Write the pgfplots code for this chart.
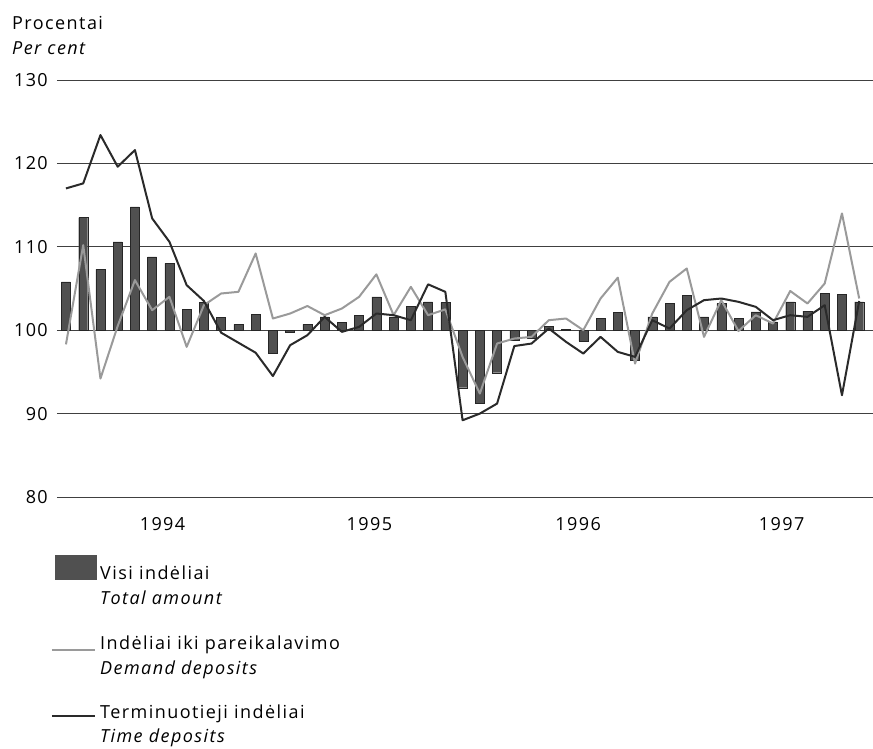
\documentclass[border=0pt]{standalone}
\usepackage{pgfplots}
\pgfplotsset{compat=1.18}
\usepackage{fontspec}
\setmainfont{Open Sans}[LetterSpace=8]
\definecolor{barGray}{HTML}{505050}
\definecolor{demandGray}{HTML}{9A9A9A}
\definecolor{timeDark}{HTML}{2A2A2A}

% monthly index: 0 = Jan 1994 ... 46 = Nov 1997
\pgfplotstableread{
m total demand time
0  105.8  98.3 117.0
1  113.5 110.2 117.6
2  107.3  94.2 123.4
3  110.6 100.5 119.6
4  114.8 106.0 121.6
5  108.8 102.4 113.4
6  108.0 104.0 110.6
7  102.5  98.0 105.4
8  103.3 103.0 103.5
9  101.5 104.4  99.7
10 100.7 104.6  98.5
11 101.9 109.2  97.3
12  97.2 101.4  94.5
13  99.8 102.0  98.2
14 100.7 102.9  99.4
15 101.6 101.8 101.6
16 100.9 102.6  99.8
17 101.8 104.0 100.4
18 104.0 106.7 102.0
19 101.6 101.8 101.8
20 102.9 105.2 101.2
21 103.4 101.8 105.5
22 103.3 102.5 104.6
23  93.1  96.8  89.2
24  91.2  92.4  90.0
25  94.9  98.4  91.2
26  98.8  99.0  98.1
27  99.0  99.2  98.4
28 100.5 101.2 100.2
29 100.1 101.4  98.6
30  98.7 100.0  97.2
31 101.4 103.8  99.2
32 102.1 106.3  97.4
33  96.4  96.0  96.8
34 101.6 102.0 101.2
35 103.2 105.8 100.2
36 104.2 107.4 102.4
37 101.6  99.2 103.6
38 103.2 103.6 103.8
39 101.4  99.9 103.4
40 102.2 101.8 102.8
41 101.0 100.8 101.2
42 103.4 104.7 101.8
43 102.3 103.2 101.6
44 104.4 105.6 103.0
45 104.3 114.0  92.2
46 103.4 103.8 103.5
}\deposits

\begin{document}
\fontsize{18}{22}\selectfont
\begin{tikzpicture}
\begin{axis}[
    name=ax,
    scale only axis,
    width=816pt, height=417pt,
    xmin=-0.52, xmax=46.8,
    ymin=-20, ymax=30,
    axis line style={draw=none},
    tick style={draw=none},
    y filter/.expression={y-100},
    ytick={-20,-10,...,30},
    yticklabels={80,90,100,110,120,130},
    xtick={5.6,17.6,29.7,41.5},
    xticklabels={1994,1995,1996,1997},
    major tick length=0pt,
    ymajorgrids,
    grid style={black!75, line width=0.8pt},
    yticklabel style={font=\fontsize{18}{22}\selectfont, inner sep=0pt, xshift=-9pt},
    xticklabel style={font=\fontsize{18}{22}\selectfont, yshift=-14pt},
    /pgf/number format/assume math mode=true,
    clip=false,
]
\addplot[ybar, bar width=9pt, fill=barGray, draw=black!85, line width=0.4pt]
    table[x=m, y=total] {\deposits};
\addplot[demandGray, line width=2pt, line join=round]
    table[x=m, y=demand] {\deposits};
\addplot[timeDark, line width=2pt, line join=round]
    table[x=m, y=time] {\deposits};
\end{axis}

\pgfresetboundingbox
\begin{scope}[shift={(ax.south west)}, xshift=-57pt, yshift=-252pt, x=1pt, y=1pt]
\path[use as bounding box] (0,0) rectangle (873,749);

\node[anchor=base west, inner sep=0pt] at (12,719) {Procentai};
\node[anchor=base west, inner sep=0pt] at (12,694) {\itshape Per cent};

% legend
\fill[barGray] (55,169) rectangle (97,194);
\node[anchor=base west, inner sep=0pt] at (100,169) {Visi indėliai};
\node[anchor=base west, inner sep=0pt] at (100,144) {\itshape Total amount};
\draw[demandGray, line width=1.5pt] (52,99) -- (95,99);
\node[anchor=base west, inner sep=0pt] at (100,99) {Indėliai iki pareikalavimo};
\node[anchor=base west, inner sep=0pt] at (100,74) {\itshape Demand deposits};
\draw[timeDark, line width=1.5pt] (52,33) -- (95,33);
\node[anchor=base west, inner sep=0pt] at (100,30) {Terminuotieji indėliai};
\node[anchor=base west, inner sep=0pt] at (100,6) {\itshape Time deposits};
\end{scope}
\end{tikzpicture}
\end{document}
